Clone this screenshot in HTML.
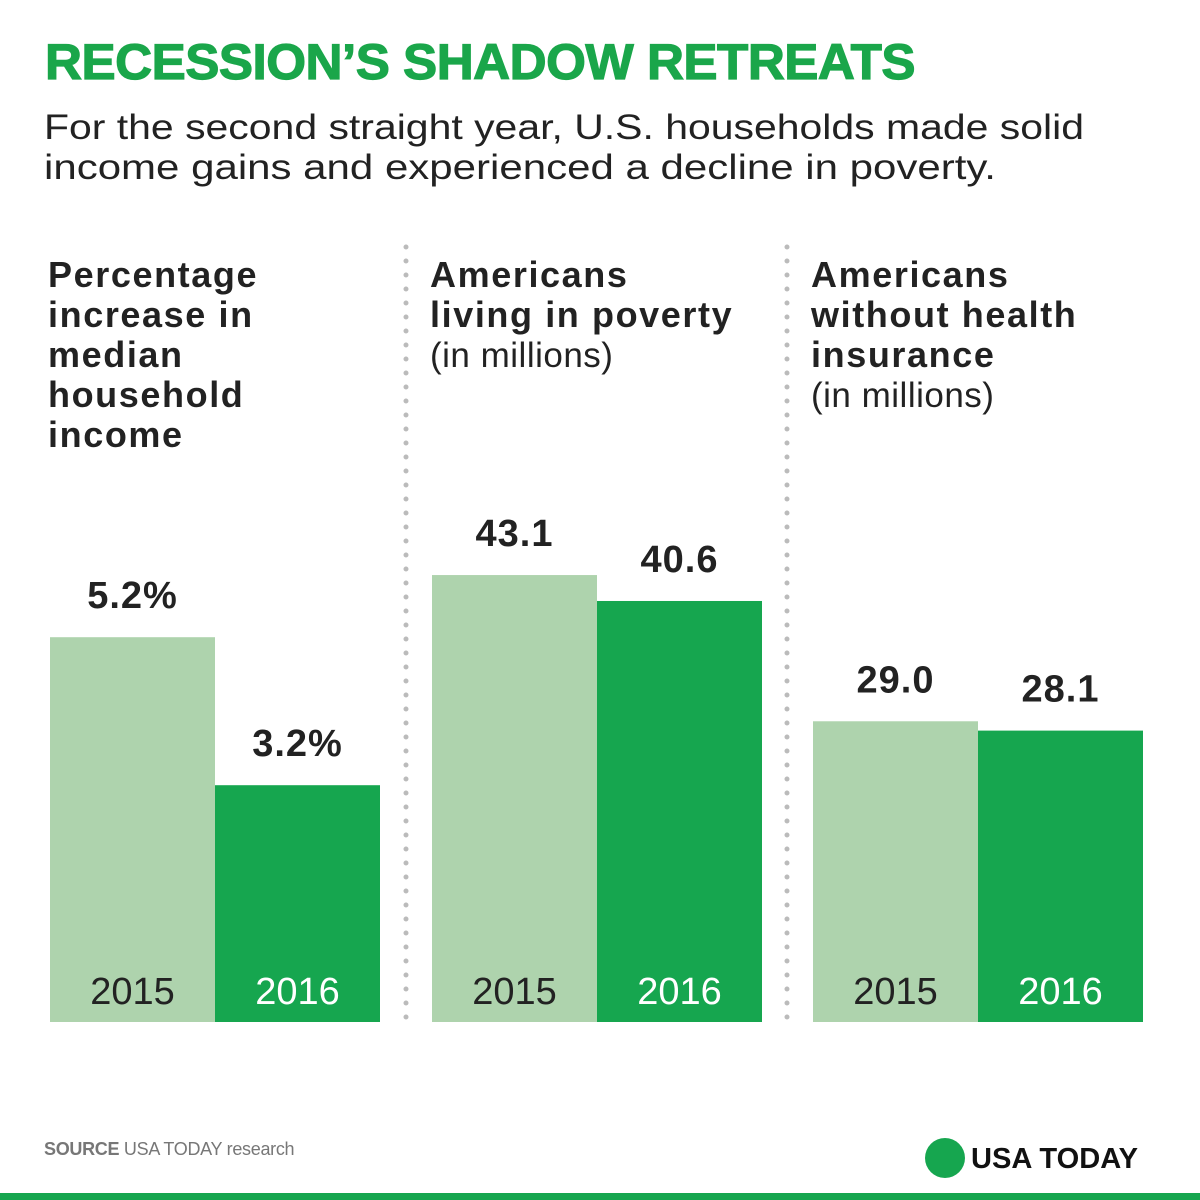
<!DOCTYPE html>
<html><head><meta charset="utf-8"><style>
html,body{margin:0;padding:0;background:#fff;}
body{width:1200px;height:1200px;position:relative;overflow:hidden;font-family:"Liberation Sans",sans-serif;}
</style></head><body>
<svg width="1200" height="1200" xmlns="http://www.w3.org/2000/svg" style="position:absolute;left:0;top:0">
<text x="45" y="79" font-size="50" font-weight="bold" fill="#1aa64a" stroke="#1aa64a" stroke-width="1.2" letter-spacing="-0.5" textLength="870" lengthAdjust="spacingAndGlyphs">RECESSION’S SHADOW RETREATS</text>
<g font-size="35" fill="#222">
<text x="44" y="139" textLength="1040" lengthAdjust="spacingAndGlyphs">For the second straight year, U.S. households made solid</text>
<text x="44" y="179" textLength="952" lengthAdjust="spacingAndGlyphs">income gains and experienced a decline in poverty.</text>
</g>
<g id="panels"></g>
<g stroke="#bbb" stroke-width="5" stroke-linecap="round" stroke-dasharray="0 14">
<line x1="406" y1="247" x2="406" y2="1030"/>
<line x1="787" y1="247" x2="787" y2="1030"/>
</g>
<text x="44" y="1155" font-size="18" fill="#777" letter-spacing="-0.3"><tspan font-weight="bold">SOURCE</tspan> USA TODAY research</text>
<circle cx="945" cy="1158" r="20" fill="#16a64f"/>
<text x="971" y="1168" font-size="29" font-weight="bold" fill="#111" textLength="167" lengthAdjust="spacingAndGlyphs">USA TODAY</text>
<rect x="0" y="1193" width="1200" height="7" fill="#16a64f"/>
</svg>
<script>
const panelTitles=[["Percentage","increase in","median","household","income"],["Americans","living in poverty"],["Americans","without health","insurance"]];
const panelSubs=["","(in millions)","(in millions)"];
const years=["2015","2016"];
const values1=[5.2,3.2];
const values2=[43.1,40.6];
const values3=[29.0,28.1];
const labels1=["5.2%","3.2%"];
const labels2=["43.1","40.6"];
const labels3=["29.0","28.1"];
const allValues=[values1,values2,values3];
const allLabels=[labels1,labels2,labels3];
const scales=[74,10.37,10.37];
const panelX=[50,432,813];
const baseY=1022, barW=165;
const colors=["#aed3ad","#16a64f"];
const yearColors=["#222","#fff"];
const NS="http://www.w3.org/2000/svg";
const g=document.getElementById('panels');
function mk(tag,attrs){const e=document.createElementNS(NS,tag);for(const k in attrs)e.setAttribute(k,attrs[k]);return e;}
function yPos(p,v){return baseY-v*scales[p];}
for(let p=0;p<3;p++){
  const x0=panelX[p];
  const lines=panelTitles[p];
  lines.forEach((t,i)=>{
    const tx=mk('text',{x:x0-2,y:287+i*40,'font-size':36,'font-weight':'bold',fill:'#222','letter-spacing':1.6});
    tx.textContent=t;
    
    
    g.appendChild(tx);
  });
  if(panelSubs[p]){
    const s=mk('text',{x:x0-2,y:287+lines.length*40,'font-size':35,fill:'#222','letter-spacing':0.5});
    s.textContent=panelSubs[p];
    
    
    g.appendChild(s);
  }
  allValues[p].forEach((v,i)=>{
    const bx=x0+i*barW, top=yPos(p,v);
    const r=mk('rect',{x:bx,y:top,width:barW,height:baseY-top,fill:colors[i]});
    
    
    g.appendChild(r);
    const vl=mk('text',{x:bx+barW/2,y:top-29,'font-size':38,'font-weight':'bold',fill:'#222','text-anchor':'middle','letter-spacing':1});
    vl.textContent=allLabels[p][i];
    
    
    g.appendChild(vl);
    const yl=mk('text',{x:bx+barW/2,y:1004,'font-size':38,fill:yearColors[i],'text-anchor':'middle'});
    yl.textContent=years[i];
    
    
    g.appendChild(yl);
  });
}
</script>
</body></html>
